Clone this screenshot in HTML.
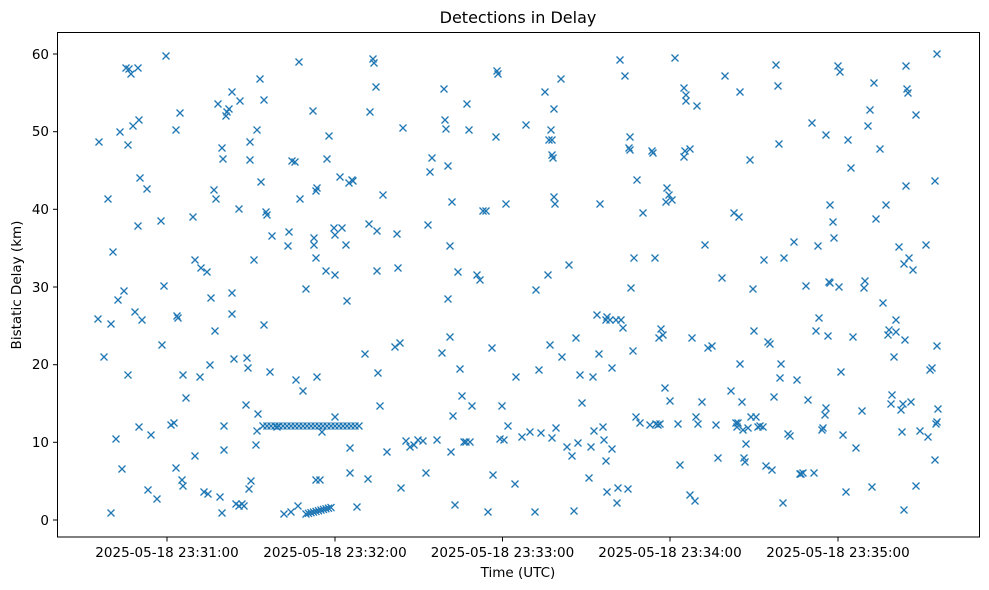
<!DOCTYPE html>
<html><head><meta charset="utf-8"><style>
body{margin:0;background:#fff}
svg{display:block}
text{font-family:"DejaVu Sans","Liberation Sans",sans-serif;fill:#000}
</style></head><body>
<svg id="s" width="989" height="590" viewBox="0 0 989 590" xmlns="http://www.w3.org/2000/svg">
<defs><path id="m" d="M-3.5,-3.5L3.5,3.5M3.5,-3.5L-3.5,3.5" stroke="#1f77b4" stroke-width="1.3" fill="none"/></defs>
<g id="pts"></g>
<rect x="57.5" y="32.5" width="922" height="504.5" fill="none" stroke="#000" stroke-width="1"/>
<text x="518" y="23" font-size="16" text-anchor="middle">Detections in Delay</text>
<g stroke="#000" stroke-width="1">
<line x1="57.5" x2="53" y1="520" y2="520"/><line x1="57.5" x2="53" y1="442.3" y2="442.3"/><line x1="57.5" x2="53" y1="364.7" y2="364.7"/><line x1="57.5" x2="53" y1="287" y2="287"/><line x1="57.5" x2="53" y1="209.3" y2="209.3"/><line x1="57.5" x2="53" y1="131.7" y2="131.7"/><line x1="57.5" x2="53" y1="54" y2="54"/>
<line x1="167" x2="167" y1="537" y2="541.5"/><line x1="335" x2="335" y1="537" y2="541.5"/><line x1="502.5" x2="502.5" y1="537" y2="541.5"/><line x1="670" x2="670" y1="537" y2="541.5"/><line x1="838" x2="838" y1="537" y2="541.5"/>
</g>
<g font-size="13.5" text-anchor="end">
<text x="49" y="525">0</text><text x="49" y="447">10</text><text x="49" y="369">20</text><text x="49" y="292">30</text><text x="49" y="214">40</text><text x="49" y="136">50</text><text x="49" y="59">60</text>
</g>
<g font-size="13.5" text-anchor="middle">
<text x="167" y="557">2025-05-18 23:31:00</text><text x="335" y="557">2025-05-18 23:32:00</text><text x="502.5" y="557">2025-05-18 23:33:00</text><text x="670" y="557">2025-05-18 23:34:00</text><text x="838" y="557">2025-05-18 23:35:00</text>
<text x="518" y="577">Time (UTC)</text>
</g>
<text font-size="13.5" text-anchor="middle" transform="translate(21,285) rotate(-90)">Bistatic Delay (km)</text>
</svg>
<script>
var p=[99,142,98,319,104,357,108,199,111,513,113,252,111,324,116,439,118,300,120,132,122,469,124,291,126,68,128,145,128,375,129,69,131,74,133,126,135,312,138,68,139,120,138,226,139,427,140,178,142,320,147,189,148,490,151,435,157,499,161,221,162,345,164,286,166,56,171,425,174,423,176,130,176,468,177,316,178,318,180,113,182,480,183,375,183,486,186,398,193,217,195,260,195,456,200,377,201,268,204,492,207,272,208,494,210,365,211,298,214,190,215,331,216,199,218,104,220,497,222,513,222,148,223,159,224,450,224,426,226,116,227,112,229,109,232,92,232,293,232,314,234,359,236,504,239,209,240,101,239,506,242,504,244,506,247,358,246,405,248,368,249,489,250,142,250,160,251,481,254,260,256,445,257,431,257,130,258,414,260,79,261,182,264,100,264,325,266,212,267,215,270,372,272,236,277,427,284,514,288,246,289,232,291,512,292,161,295,162,296,380,298,506,299,62,300,199,303,391,306,289,316,258,316,480,317,377,327,159,313,111,314,238,314,245,316,191,317,188,320,480,322,432,326,271,329,136,334,228,335,235,335,275,335,417,340,177,342,228,346,245,347,301,349,183,350,448,352,180,353,181,350,473,357,507,365,354,368,479,369,224,370,112,373,59,374,63,376,87,377,271,377,231,378,373,380,406,383,195,387,452,395,347,397,234,398,268,400,343,401,488,403,128,406,441,410,447,414,445,418,440,423,441,426,473,428,225,430,172,432,158,437,440,442,353,444,89,445,120,446,129,448,166,448,299,450,246,450,337,451,452,452,202,453,416,455,505,458,272,460,369,462,396,464,442,466,442,467,104,469,130,470,442,472,406,477,275,480,280,483,211,486,211,488,512,492,348,493,475,496,137,497,71,498,74,500,439,502,406,504,440,506,204,508,426,515,484,516,377,522,437,526,125,530,432,535,512,536,290,539,370,541,433,545,92,548,275,549,140,550,345,552,140,551,130,552,438,552,155,553,158,554,109,554,197,555,204,556,428,561,79,562,357,567,447,569,265,572,456,574,511,576,338,578,443,580,375,582,403,589,478,591,447,593,377,594,431,597,315,599,354,600,204,603,427,604,440,606,461,606,320,607,317,607,492,610,320,612,449,612,368,616,320,617,503,618,488,620,60,621,320,623,328,625,76,628,489,629,148,630,150,630,137,631,288,633,351,634,258,636,417,637,180,640,423,643,213,650,425,652,151,653,153,655,258,656,424,658,425,660,424,659,338,661,329,663,335,665,388,666,202,667,188,669,195,670,401,672,200,675,58,678,424,680,465,684,88,684,157,685,151,686,101,686,95,690,149,690,495,692,338,695,501,696,417,697,106,698,424,702,402,705,245,708,348,712,346,716,425,718,458,722,278,725,76,731,391,734,213,736,423,737,427,738,423,740,92,739,217,740,364,742,402,744,458,745,462,743,430,746,444,748,428,750,160,751,417,753,289,754,331,756,417,758,427,760,426,763,427,764,260,766,466,768,342,770,344,772,470,774,397,776,65,778,86,779,144,780,378,781,364,783,503,784,258,788,434,790,436,794,242,797,380,800,474,801,474,803,473,806,286,808,400,812,123,814,473,816,331,818,246,819,318,822,430,823,428,825,415,826,408,828,336,826,135,829,282,830,283,830,205,833,222,834,238,838,66,840,72,839,287,841,372,843,435,846,492,848,140,851,168,853,337,856,448,862,411,864,288,865,281,868,126,870,110,872,487,874,83,876,219,880,149,883,303,886,205,888,335,889,330,891,404,892,395,894,357,896,320,896,332,899,247,901,410,902,432,903,404,904,264,904,510,905,340,906,186,906,66,907,89,908,93,909,258,911,402,913,270,916,486,916,115,920,431,926,245,928,437,930,370,932,368,935,460,935,181,936,424,937,422,937,54,938,409,937,346];
for(var x=263;x<=361;x+=4){p.push(x,426);}
for(var x=306;x<=333;x+=2.5){p.push(x,514-(x-306)*0.26);}
var g=document.getElementById('pts'),ns='http://www.w3.org/2000/svg',h='';
for(var i=0;i<p.length;i+=2){h+='<use href="#m" x="'+p[i]+'" y="'+p[i+1]+'"/>';}
g.innerHTML=h;
</script>
</body></html>
